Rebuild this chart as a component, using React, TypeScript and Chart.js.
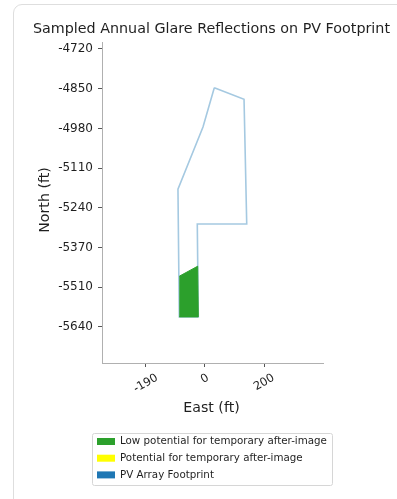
import React, { useEffect, useRef } from 'react';
import { Chart, registerables } from 'chart.js';
Chart.register(...registerables);

// ---- data ----
const footprintX = [30.7, 128.7, 137.6, -25.4, -22.1, -84.8, -89.1, -6.6, 30.7];
const footprintY = [-4848, -4886, -5297, -5297, -5603, -5603, -5182, -4977, -4848];
const lowGlareX = [-84.8, -24.1, -22.1, -84.8];
const lowGlareY = [-5469, -5436, -5603, -5603];
const potentialX: number[] = [];
const potentialY: number[] = [];
const seriesLabels = [
  'Low potential for temporary after-image',
  'Potential for temporary after-image',
  'PV Array Footprint',
];
const legendColors = ['#2ca02c', '#ffff00', '#1f77b4'];
const xTickValues = [-195, 0, 195];
const xTickLabels = ['-190', '0', '200'];
const yTickValues = [-4720, -4850.9, -4981.8, -5112.7, -5243.6, -5374.5, -5505.4, -5636.3];
const yTickLabels = ['-4720', '-4850', '-4980', '-5110', '-5240', '-5370', '-5510', '-5640'];
const titleText = 'Sampled Annual Glare Reflections on PV Footprint';
const xTitle = 'East (ft)';
const yTitle = 'North (ft)';

const FONT = '"DejaVu Sans", sans-serif';
const TEXT = '#1f1f1f';

const zip = (xs: number[], ys: number[]) => xs.map((x, i) => ({ x, y: ys[i] }));

const textPlugin = {
  id: 'texts',
  afterDraw(chart: any) {
    const ctx = chart.ctx as CanvasRenderingContext2D;
    const ca = chart.chartArea;
    const xs = chart.scales.x;
    ctx.save();
    ctx.fillStyle = TEXT;
    // title
    ctx.font = `14.3px ${FONT}`;
    ctx.textAlign = 'center';
    ctx.textBaseline = 'middle';
    ctx.fillText(titleText, (ca.left + ca.right) / 2 - 1, ca.top - 13);
    // x tick labels rotated 30deg, centered
    const fs = 11.5;
    ctx.font = `${fs}px ${FONT}`;
    const ang = Math.PI / 6;
    xTickValues.forEach((v, i) => {
      const px = xs.getPixelForValue(v);
      const w = ctx.measureText(xTickLabels[i]).width;
      const h = fs;
      const H = w * Math.sin(ang) + h * Math.cos(ang);
      const cy = ca.bottom + 9 + H / 2;
      ctx.save();
      ctx.translate(px, cy);
      ctx.rotate(-ang);
      ctx.fillText(xTickLabels[i], 0, 0);
      ctx.restore();
    });
    // axis titles
    ctx.font = `14.2px ${FONT}`;
    ctx.fillText(xTitle, (ca.left + ca.right) / 2 - 1, ca.bottom + 45);
    ctx.save();
    ctx.translate(45, 200);
    ctx.rotate(-Math.PI / 2);
    ctx.fillText(yTitle, 0, 0);
    ctx.restore();
    // legend
    const lx = 92, ly = 433, lw = 240, lh = 52;
    ctx.strokeStyle = '#d6d6d6';
    ctx.lineWidth = 1;
    ctx.beginPath();
    (ctx as any).roundRect(lx + 0.5, ly + 0.5, lw, lh, 2);
    ctx.stroke();
    ctx.font = `10.3px ${FONT}`;
    ctx.textAlign = 'left';
    seriesLabels.forEach((lab, i) => {
      const cy = ly + 8.5 + i * 16.7;
      ctx.fillStyle = legendColors[i];
      ctx.fillRect(97, cy - 3.5, 18, 7);
      ctx.fillStyle = TEXT;
      ctx.fillText(lab, 120, cy);
    });
    ctx.restore();
  },
};

export default function App() {
  const ref = useRef<HTMLCanvasElement>(null);
  useEffect(() => {
    const chart = new Chart(ref.current!, {
      type: 'line',
      data: {
        datasets: [
          {
            label: seriesLabels[0],
            data: zip(lowGlareX, lowGlareY),
            borderColor: '#2ca02c',
            backgroundColor: '#2ca02c',
            borderWidth: 1,
            pointRadius: 0,
            fill: 'shape',
            tension: 0,
          },
          {
            label: seriesLabels[1],
            data: zip(potentialX, potentialY),
            borderColor: '#ffff00',
            backgroundColor: '#ffff00',
            pointRadius: 0,
            fill: 'shape',
          },
          {
            label: seriesLabels[2],
            data: zip(footprintX, footprintY),
            borderColor: '#a5c9e1',
            borderWidth: 1.6,
            pointRadius: 0,
            fill: false,
            tension: 0,
          },
        ],
      },
      options: {
        animation: false,
        responsive: false,
        devicePixelRatio: 1,
        layout: { padding: { left: 0, right: 74, top: 42, bottom: 0 } },
        plugins: { legend: { display: false }, tooltip: { enabled: false }, title: { display: false } },
        scales: {
          x: {
            type: 'linear',
            min: -339.5,
            max: 389,
            afterBuildTicks: (s: any) => {
              s.ticks = xTickValues.map((v) => ({ value: v }));
            },
            afterFit: (s: any) => {
              s.height = 136;
            },
            ticks: { display: false },
            grid: { drawOnChartArea: false, drawTicks: true, tickLength: 4, tickColor: '#555', tickWidth: 1 },
            border: { display: true, color: '#b0b0b0', width: 1 },
          },
          y: {
            type: 'linear',
            min: -5755,
            max: -4697,
            afterBuildTicks: (s: any) => {
              s.ticks = yTickValues.map((v) => ({ value: v }));
            },
            afterFit: (s: any) => {
              s.width = 102;
            },
            ticks: {
              callback: (_v: any, i: number) => yTickLabels[i],
              font: { size: 12, family: FONT },
              color: TEXT,
              padding: 5,
            },
            grid: { drawOnChartArea: false, drawTicks: true, tickLength: 4, tickColor: '#555', tickWidth: 1 },
            border: { display: true, color: '#b0b0b0', width: 1 },
          },
        },
      },
      plugins: [textPlugin],
    } as any);
    return () => chart.destroy();
  }, []);
  return (
    <div style={{ position: 'fixed', left: 0, top: 0, width: 397, height: 499, background: '#fff', overflow: 'hidden' }}>
      <div
        style={{
          position: 'absolute',
          left: 13,
          top: 4,
          width: 440,
          height: 540,
          border: '1px solid #dedede',
          borderRadius: 9,
          background: '#fff',
        }}
      />
      <canvas ref={ref} width={397} height={499} style={{ position: 'absolute', left: 0, top: 0 }} />
    </div>
  );
}
